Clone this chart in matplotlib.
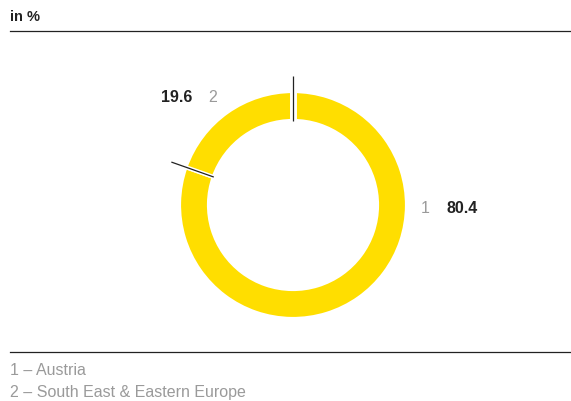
import matplotlib.pyplot as plt
import numpy as np

# Anteile in %
labels = ["1", "2"]
values = [80.4, 19.6]
names = ["Austria", "South East & Eastern Europe"]

W, H = 571, 402
fig = plt.figure(figsize=(W / 100, H / 100), dpi=100)
ax = fig.add_axes([0, 0, 1, 1])
ax.set_xlim(0, W)
ax.set_ylim(0, H)
ax.set_aspect("equal")
ax.axis("off")

def py(y):
    # Pixel von oben -> Datenkoordinate
    return H - y

dark = "#222222"
grey = "#9a9a9a"
yellow = "#FFDE00"
font = "Liberation Sans"

# Kopf
ax.text(10, py(17), "in %", fontsize=10.5, fontweight="bold", color=dark,
        ha="left", va="center", family=font)
ax.plot([10, W], [py(32), py(32)], color=dark, lw=0.9)

# Ring
cx, cy = 293, py(206)
r_out, r_in = 114, 84
ax.pie(values, center=(cx, cy), radius=r_out, startangle=90, counterclock=False,
       colors=[yellow, yellow],
       wedgeprops=dict(width=r_out - r_in, edgecolor="white", linewidth=3))
ax.set_xlim(0, W)
ax.set_ylim(0, H)

# Trennlinien an den Segmentgrenzen (im Uhrzeigersinn)
ang = 90.0
for i, v in enumerate(values):
    a = np.deg2rad(ang)
    if i == 0:
        ax.plot([cx + r_in * np.cos(a), cx + (r_out + 2) * np.cos(a)],
                [cy + r_in * np.sin(a), cy + (r_out + 2) * np.sin(a)],
                color="white", lw=5, solid_capstyle="butt")
    ax.plot([cx + r_in * np.cos(a), cx + 129 * np.cos(a)],
            [cy + r_in * np.sin(a), cy + 129 * np.sin(a)],
            color=dark, lw=0.9, solid_capstyle="butt")
    ang -= v / sum(values) * 360

# Werte
fs = 11.5
ax.text(192, py(98), f"{values[1]:.1f}", fontsize=fs, fontweight="bold", color=dark,
        ha="right", va="center", family=font)
ax.text(208, py(98), labels[1], fontsize=fs, color=grey,
        ha="left", va="center", family=font)
ax.text(421, py(209), labels[0], fontsize=fs, color=grey,
        ha="left", va="center", family=font)
ax.text(446, py(209), f"{values[0]:.1f}", fontsize=fs, fontweight="bold", color=dark,
        ha="left", va="center", family=font)

# Legende
ax.plot([10, W], [py(353), py(353)], color=dark, lw=0.9)
for i, (lab, name) in enumerate(zip(labels, names)):
    ax.text(10, py(371 + 22 * i), f"{lab} – {name}", fontsize=fs, color=grey,
            ha="left", va="center", family=font)

fig.savefig("out.png", dpi=100)
